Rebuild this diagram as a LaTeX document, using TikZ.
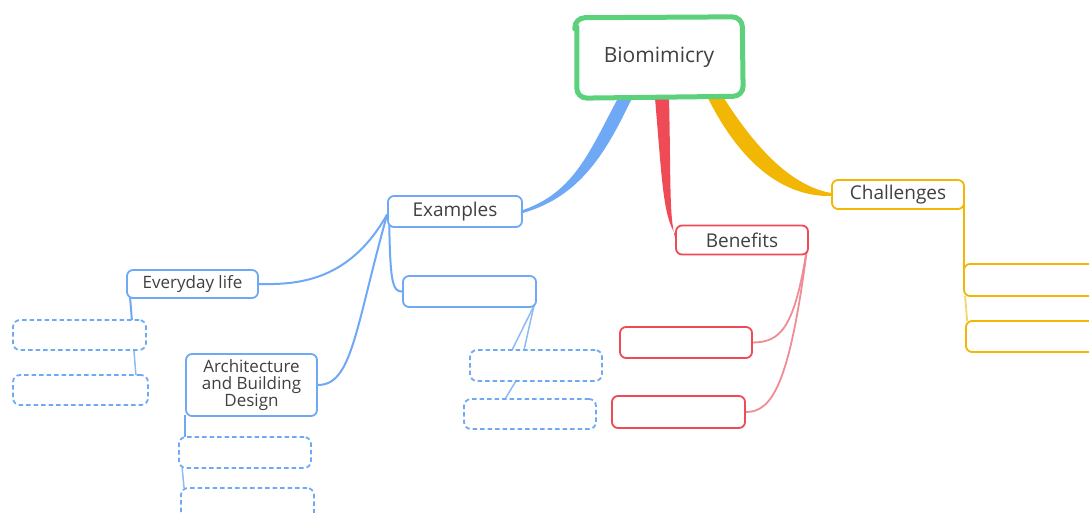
\documentclass[tikz,border=0pt]{standalone}
\usepackage{fontspec}
\setmainfont{Open Sans}
\usetikzlibrary{calc,backgrounds}
\definecolor{tgray}{HTML}{404040}
\definecolor{bl}{HTML}{6FA8F5}
\definecolor{bll}{HTML}{8DBBF5}
\definecolor{rd}{HTML}{EE4B57}
\definecolor{rdl}{HTML}{F08C95}
\definecolor{yl}{HTML}{F2B705}
\definecolor{gr}{HTML}{5CD17B}
\tikzset{
  lbl/.style={text=tgray, font=\fontsize{19}{20}\selectfont, align=center, inner sep=0pt},
  bbox/.style={lbl, draw=bl, line width=1.8, rounded corners=6, fill=white},
  dbox/.style={draw=bl, line width=1.8, rounded corners=7, fill=white, dash pattern=on 4.5 off 3},
  rbox/.style={lbl, draw=rd, line width=1.8, rounded corners=6, fill=white},
  ybox/.style={lbl, draw=yl, line width=1.8, rounded corners=6, fill=white},
  bline/.style={draw=bl, line width=2},
  blinel/.style={draw=bll, line width=1.5},
  rline/.style={draw=rdl, line width=1.8},
  yline/.style={draw=yl, line width=1.8},
}
\begin{document}
\begin{tikzpicture}[x=1pt,y=-1pt]
\useasboundingbox (0,0) rectangle (1089,513);
% central node
\node[lbl, font=\fontsize{21}{22}\selectfont, minimum width=170, minimum height=84] (bio) at (659,57) {Biomimicry};
% level 1
\node[bbox, minimum width=134, minimum height=31] (ex) at (455,211.5) {Examples};
\node[rbox, minimum width=132, minimum height=29] (ben) at (742,240) {Benefits};
\node[ybox, minimum width=132, minimum height=29] (ch) at (898,194.5) {Challenges};
% level 2 (blue)
\node[bbox, font=\fontsize{17}{18}\selectfont, minimum width=131, minimum height=28] (ev) at (192.5,284) {Everyday life};
\node[bbox, font=\fontsize{17}{17}\selectfont, minimum width=131, minimum height=62] (ar) at (251.5,385) {Architecture\\and Building\\Design};
\node[bbox, minimum width=133, minimum height=31] (e1) at (469.5,291.5) {};
% dashed leaves
\node[dbox, minimum width=133, minimum height=30] (d1) at (79.5,335) {};
\node[dbox, minimum width=135, minimum height=30] (d2) at (80.5,390) {};
\node[dbox, minimum width=132, minimum height=31] (d3) at (245,452.5) {};
\node[dbox, minimum width=133, minimum height=34] (d4) at (247.5,505) {};
\node[dbox, minimum width=132, minimum height=31] (d5) at (536,365.5) {};
\node[dbox, minimum width=132, minimum height=30] (d6) at (530,414) {};
% red leaves
\node[rbox, minimum width=132, minimum height=31] (b1) at (686,342.5) {};
\node[rbox, minimum width=133, minimum height=32] (b2) at (678.5,412) {};
% yellow leaves
\node[ybox, minimum width=140, minimum height=32] (c1) at (1034,280) {};
\node[ybox, minimum width=140, minimum height=31] (c2) at (1036,336.5) {};
% hand-drawn frame of central node
\draw[gr, line width=5, line cap=round, rounded corners=10]
  ($(bio.north west)+(3,12)$) -- ($(bio.south west)+(3,-1)$) -- ($(bio.south east)+(-1,-3)$)
  -- ($(bio.north east)+(-2,2)$) -- ($(bio.north west)+(1,3)$) -- ($(bio.north west)+(1,14)$);
\begin{pgfonlayer}{background}
% branches
\fill[bl] ($(bio.south)+(-41,-1)$) .. controls (590,150) and (575,192) .. ($(ex.east)+(0,-1.5)$)
  -- ($(ex.east)+(0,1.5)$) .. controls (582,196) and (607,150) .. ($(bio.south)+(-27,-1)$) -- cycle;
\fill[rd] ($(bio.south)+(-4,-1)$) .. controls (662,180) and (663,215) .. ($(ben.west)+(0,-6)$)
  -- ($(ben.west)+(0,-2)$) .. controls (669,215) and (671,180) .. ($(bio.south)+(10,-1)$) -- cycle;
\fill[yl] ($(bio.south)+(49,-1)$) .. controls (740,162) and (782,197) .. ($(ch.west)+(0,1.5)$)
  -- ($(ch.west)+(0,-1.5)$) .. controls (792,186) and (757,150) .. ($(bio.south)+(65,-1)$) -- cycle;
% connectors
\draw[bline] ($(ex.west)+(0,3)$) .. controls (350,280) and (300,285) .. (ev.east);
\draw[bline] ($(ex.west)+(0,3)$) .. controls (355,330) and (352,385) .. (ar.east);
\draw[bline] ($(ex.west)+(2,3)$) .. controls (390,280) and (392,292) .. (e1.west);
\draw[bline] ($(ev.south west)+(4,-1)$) -- ($(d1.north east)+(-15,1)$);
\draw[blinel] ($(d1.south east)+(-13,-1)$) -- ($(d2.north east)+(-13,1)$);
\draw[bline] ($(ar.south west)+(0,-2)$) -- ($(d3.north west)+(7,1)$);
\draw[blinel] ($(d3.south west)+(4,-1)$) -- ($(d4.north west)+(4,1)$);
\draw[blinel] ($(e1.south east)+(-3,-2)$) -- ($(d5.north)+(-24,1)$);
\draw[blinel] ($(e1.south east)+(-3,-2)$) -- ($(d5.north)+(-12,1)$);
\draw[blinel] ($(d5.south)+(-20,-1)$) -- ($(d6.north)+(-25,1)$);
\draw[rline] ($(ben.east)+(-1,2)$) .. controls (795,330) and (780,342) .. (b1.east);
\draw[rline] ($(ben.east)+(-1,2)$) .. controls (790,385) and (772,412) .. (b2.east);
\draw[yline] ($(ch.east)+(-1,3)$) -- ($(c1.west)+(1,8)$);
\draw[yline, draw=yl!60] ($(c1.south west)+(2,-1)$) -- ($(c2.north west)+(2,1)$);
\end{pgfonlayer}
\end{tikzpicture}
\end{document}
